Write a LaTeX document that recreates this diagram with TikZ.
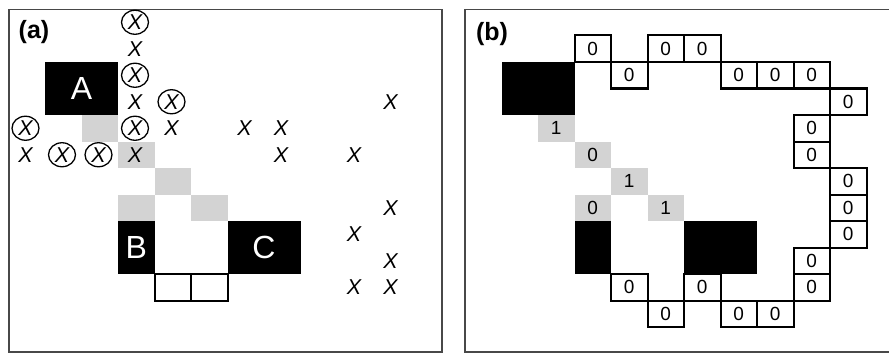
\documentclass[tikz,border=0pt]{standalone}
\usepackage{fontspec}
\setmainfont{Liberation Sans}
\usetikzlibrary{shapes.geometric}
\definecolor{cellgray}{HTML}{D3D3D3}
\definecolor{framegray}{HTML}{484848}
\begin{document}
\begin{tikzpicture}[x=1pt,y=-1pt,
  cell/.style={rectangle, inner sep=0pt, minimum width=36.5pt, minimum height=26.5pt},
  graycell/.style={cell, fill=cellgray, font=\fontsize{19}{19}\selectfont},
  blk/.style={rectangle, inner sep=0pt, fill=black, text=white, font=\fontsize{32}{32}\selectfont},
  zbox/.style={cell, draw=black, line width=2pt, font=\fontsize{19}{19}\selectfont},
  xm/.style={inner sep=0pt, font=\fontsize{21.5}{21.5}\selectfont\itshape},
  cxm/.style={xm, ellipse, draw=black, line width=1.3pt, minimum width=27pt, minimum height=24pt},
  frame/.style={draw=framegray, line width=1.7pt},
  tag/.style={inner sep=0pt, font=\fontsize{25}{25}\selectfont\bfseries}
]
\useasboundingbox (0,0) rectangle (889,353);
\clip (0,0) rectangle (889,353);

% ---------- panel (a) ----------
\draw[frame] (8.7,9.5) rectangle (442,351.7);
\node[tag] (taga) at (34,32.5) {(a)};

\foreach \c/\r in {1/2,2/3,3/4,2/5,4/5}
  \node[graycell] (ga-\c-\r) at ({63.25+36.5*\c},{75.25+26.5*\r}) {};

\node[blk, minimum width=73pt, minimum height=53pt] (A) at (81.5,88.5) {A};
\node[blk, minimum width=36.5pt, minimum height=53pt] (B) at (136.25,247.5) {B};
\node[blk, minimum width=73pt, minimum height=53pt] (C) at (264,247.5) {C};

\foreach \c in {3,4}
  \node[zbox] (za-\c) at ({63.25+36.5*\c},{75.25+26.5*8}) {};

\foreach \c/\r in {2/-2,2/0,3/1,2/2,-1/2,0/3,1/3}
  \node[cxm] (cx-\c-\r) at ({62+36.5*\c},{75.25+26.5*\r}) {X};

\foreach \c/\r in {2/-1,2/1,3/2,-1/3,2/3,5/2,6/2,6/3,8/3,9/1,9/5,8/6,9/7,8/8,9/8}
  \node[xm] (px-\c-\r) at ({62+36.5*\c},{75.25+26.5*\r}) {X};

% ---------- panel (b) ----------
\draw[frame] (465,9.5) rectangle (898,351.7);
\node[tag] (tagb) at (492,34) {(b)};

\node[blk, minimum width=73pt, minimum height=53pt] (bA) at (538,88.5) {};
\node[blk, minimum width=36.5pt, minimum height=53pt] (bB) at (592.75,247.5) {};
\node[blk, minimum width=73pt, minimum height=53pt] (bC) at (720.5,247.5) {};

\foreach \c/\r/\v in {1/2/1,2/3/0,3/4/1,2/5/0,4/5/1}
  \node[graycell] (gb-\c-\r) at ({519.75+36.5*\c},{75.25+26.5*\r}) {\v};

\foreach \c/\r in {2/-1,4/-1,5/-1,3/0,6/0,7/0,8/0,9/1,8/2,8/3,9/4,9/5,9/6,8/7,8/8,3/8,5/8,4/9,6/9,7/9}
  \node[zbox] (zb-\c-\r) at ({519.75+36.5*\c},{75.25+26.5*\r}) {0};
\end{tikzpicture}
\end{document}
